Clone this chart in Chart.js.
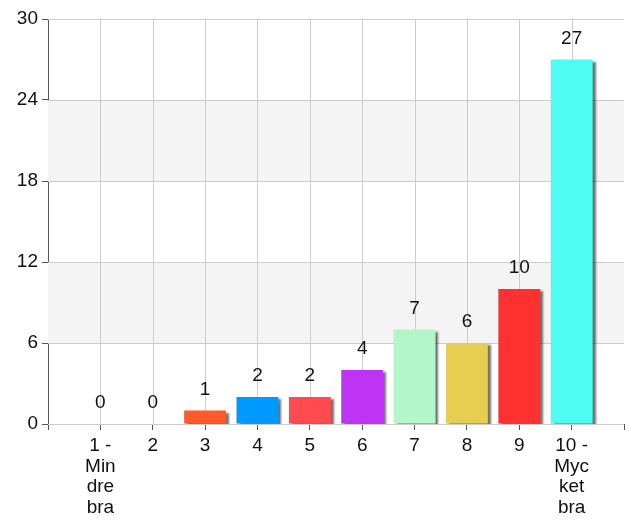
<!DOCTYPE html>
<html>
<head>
<meta charset="utf-8">
<script src="https://cdn.jsdelivr.net/npm/chart.js@4/dist/chart.umd.min.js"></script>
<style>
  html, body { margin: 0; padding: 0; background: #fff; }
  #wrap { width: 630px; height: 529px; }
</style>
</head>
<body>
<div id="wrap"><canvas id="chart"></canvas></div>
<script>
// answer categories (empty slots at both ends keep the same spacing as the reference)
const categories = ['', ['1 -', 'Min', 'dre', 'bra'], '2', '3', '4', '5', '6', '7', '8', '9', ['10 -', 'Myc', 'ket', 'bra'], ''];
const counts = [null, 0, 0, 1, 2, 2, 4, 7, 6, 10, 27, null];
const barColors = ['#fff', '#3399ff', '#99cc33', '#ff5a2d', '#0099ff', '#ff4a4f', '#bf33f5', '#b3f7c9', '#e6cf50', '#ff3030', '#4dfdf1', '#fff'];
const yTicks = [0, 6, 12, 18, 24, 30];
const bands = [[6, 12], [18, 24]];

const FONT = 'Arial, "Liberation Sans", sans-serif';

const bandPlugin = {
    id: 'bands',
    beforeDatasetsDraw(chart) {
        const { ctx, chartArea, scales } = chart;
        ctx.save();
        ctx.fillStyle = '#f4f4f4';
        for (const [a, b] of bands) {
            const y1 = scales.y.getPixelForValue(b);
            const y2 = scales.y.getPixelForValue(a);
            ctx.fillRect(chartArea.left, y1, chartArea.right - chartArea.left, y2 - y1);
        }
        ctx.restore();
    }
};

// gridlines over the bands
const gridOver = {
    id: 'gridOver',
    beforeDatasetsDraw(chart) {
        const { ctx, chartArea, scales } = chart;
        ctx.save();
        ctx.strokeStyle = '#cccccc';
        ctx.lineWidth = 1;
        ctx.beginPath();
        for (const v of yTicks) {
            const y = Math.round(scales.y.getPixelForValue(v)) + 0.5;
            ctx.moveTo(chartArea.left, y);
            ctx.lineTo(chartArea.right, y);
        }
        for (let i = 1; i < categories.length - 1; i++) {
            const x = Math.round(scales.x.getPixelForValue(i)) + 0.5;
            ctx.moveTo(x, chartArea.top);
            ctx.lineTo(x, chartArea.bottom);
        }
        ctx.stroke();
        ctx.restore();
    }
};

const shadowPlugin = {
    id: 'barShadow',
    beforeDatasetDraw(chart) {
        const ctx = chart.ctx;
        ctx.save();
        ctx.shadowColor = 'rgba(0,0,0,0.55)';
        ctx.shadowOffsetX = 3;
        ctx.shadowOffsetY = 2;
        ctx.shadowBlur = 2;
    },
    afterDatasetDraw(chart) {
        chart.ctx.restore();
    }
};

const valueLabels = {
    id: 'valueLabels',
    afterDatasetsDraw(chart) {
        const ctx = chart.ctx;
        const meta = chart.getDatasetMeta(0);
        ctx.save();
        ctx.font = '19px ' + FONT;
        ctx.fillStyle = '#111';
        ctx.textAlign = 'center';
        ctx.textBaseline = 'middle';
        meta.data.forEach((bar, i) => {
            if (counts[i] === null) return;
            ctx.fillText(String(counts[i]), bar.x, bar.y - 21);
        });
        ctx.restore();
    }
};

new Chart(document.getElementById('chart'), {
    type: 'bar',
    data: {
        labels: categories,
        datasets: [{
            data: counts,
            backgroundColor: barColors,
            borderWidth: 0,
            barPercentage: 0.8,
            categoryPercentage: 1
        }]
    },
    plugins: [bandPlugin, gridOver, shadowPlugin, valueLabels],
    options: {
        responsive: true,
        maintainAspectRatio: false,
        animation: false,
        layout: { padding: { top: 19, right: 6, left: 0, bottom: 0 } },
        plugins: {
            legend: { display: false },
            tooltip: { enabled: false }
        },
        scales: {
            x: {
                offset: false,
                grid: {
                    display: true,
                    offset: false,
                    drawOnChartArea: false,
                    drawTicks: true,
                    tickLength: 6,
                    tickColor: '#555'
                },
                border: { display: true, color: '#555', width: 1 },
                ticks: {
                    autoSkip: false,
                    maxRotation: 0,
                    padding: 5,
                    color: '#111',
                    font: { family: FONT, size: 19, lineHeight: 1.1 }
                },
                afterFit(scale) { scale.height = 105; }
            },
            y: {
                min: 0,
                max: 30,
                afterBuildTicks(scale) { scale.ticks = yTicks.map(v => ({ value: v })); },
                grid: {
                    display: true,
                    drawOnChartArea: false,
                    drawTicks: true,
                    tickLength: 6,
                    tickColor: '#555'
                },
                border: { display: true, color: '#555', width: 1 },
                ticks: {
                    padding: 4,
                    color: '#111',
                    font: { family: FONT, size: 19 }
                },
                afterFit(scale) { scale.width = 48; }
            }
        }
    }
});
</script>
</body>
</html>
